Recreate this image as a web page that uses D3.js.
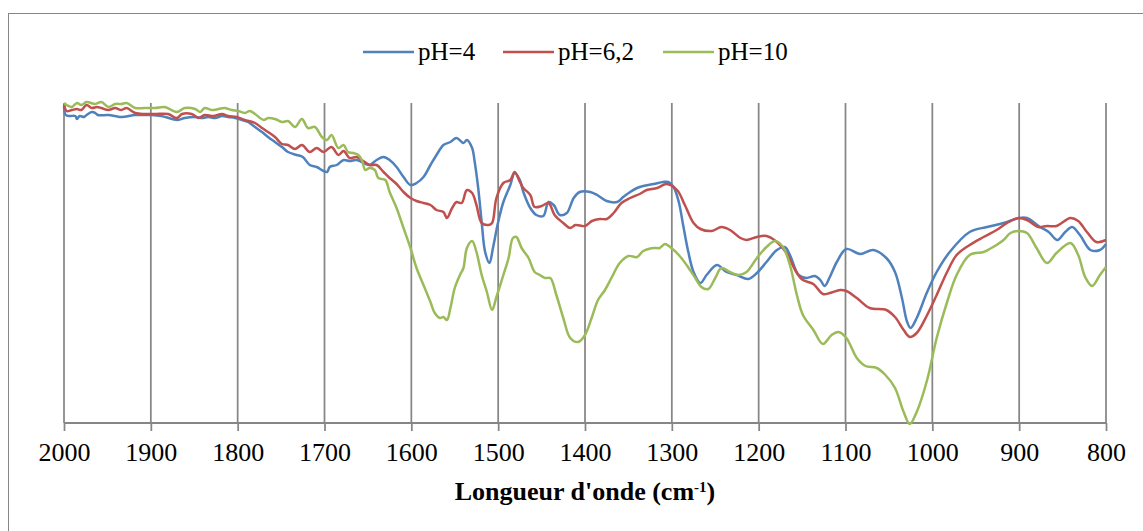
<!DOCTYPE html>
<html>
<head>
<meta charset="utf-8">
<script src="https://cdn.jsdelivr.net/npm/d3@7"></script>
<style>
  html, body { margin: 0; padding: 0; background: #fff; }
  svg { display: block; }
</style>
</head>
<body>
<svg id="chart" width="1143" height="531"></svg>
<script>
// ---- data (wavenumber cm-1, transmittance in arbitrary units) ----
const xTicks = [2000, 1900, 1800, 1700, 1600, 1500, 1400, 1300, 1200, 1100, 1000, 900, 800];
const seriesNames = ["pH=4", "pH=6,2", "pH=10"];
const seriesColors = ["#4F81BD", "#C0504D", "#9BBB59"];

const ph4 = [[2000,317],[1998,308],[1993,307],[1987,307],[1985,304],[1982,307],[1977,306],[1974,308],[1968,311],[1964,310],[1961,308],[1949,308],[1941,307],[1934,306],[1918,308],[1907,308],[1899,308],[1888,307],[1869,303],[1861,305],[1849,306],[1841,305],[1834,306],[1826,305],[1818,307],[1811,306],[1803,305],[1795,303],[1788,301],[1780,296],[1772,291],[1765,286],[1757,281],[1749,276],[1742,271],[1732,268],[1725,266],[1717,258],[1709,256],[1701,252],[1697,251],[1694,256],[1686,258],[1678,263],[1671,262],[1663,263],[1655,260],[1648,258],[1640,263],[1632,266],[1625,263],[1617,256],[1609,246],[1601,238],[1594,240],[1586,246],[1578,258],[1571,268],[1563,278],[1555,281],[1548,285],[1540,280],[1536,283],[1530,275],[1527,261],[1523,235],[1519,201],[1515,171],[1510,160],[1506,175],[1500,201],[1494,221],[1486,238],[1481,250],[1475,243],[1471,231],[1463,215],[1456,208],[1448,207],[1442,221],[1436,218],[1429,208],[1421,210],[1413,225],[1406,231],[1394,231],[1386,228],[1375,222],[1363,221],[1356,226],[1348,231],[1340,235],[1333,237],[1321,239],[1310,241],[1304,241],[1298,236],[1292,221],[1287,198],[1281,171],[1275,151],[1267,140],[1260,148],[1248,158],[1237,151],[1225,148],[1212,144],[1202,150],[1191,161],[1179,173],[1170,176],[1164,168],[1154,148],[1145,145],[1135,147],[1129,143],[1124,137],[1118,146],[1110,161],[1099,174],[1083,169],[1068,173],[1053,165],[1043,151],[1035,125],[1029,101],[1025,95],[1018,105],[1006,131],[995,151],[980,171],[957,191],[937,196],[918,200],[900,205],[891,205],[876,196],[866,191],[856,183],[847,191],[839,196],[830,188],[818,173],[807,173],[800,179]];

const ph62 = [[2000,319],[1997,312],[1991,313],[1985,314],[1980,313],[1974,318],[1968,315],[1962,316],[1957,315],[1949,313],[1941,315],[1934,313],[1928,315],[1918,310],[1907,309],[1895,309],[1880,309],[1870,305],[1864,309],[1853,309],[1845,305],[1838,308],[1828,307],[1818,309],[1811,307],[1801,306],[1792,303],[1780,300],[1772,295],[1765,291],[1757,286],[1749,279],[1742,278],[1734,274],[1726,278],[1717,271],[1709,275],[1701,271],[1692,276],[1684,268],[1678,272],[1671,265],[1663,266],[1657,263],[1648,258],[1640,258],[1632,251],[1625,245],[1617,239],[1609,231],[1601,225],[1594,222],[1586,220],[1578,218],[1571,213],[1563,211],[1559,205],[1553,215],[1548,221],[1542,220],[1536,233],[1530,230],[1525,218],[1519,200],[1511,198],[1507,200],[1502,225],[1494,240],[1486,243],[1481,251],[1475,241],[1471,235],[1463,228],[1458,216],[1450,217],[1442,220],[1435,208],[1425,200],[1417,195],[1411,198],[1400,197],[1392,202],[1383,204],[1375,204],[1367,210],[1358,220],[1348,225],[1337,229],[1329,233],[1317,235],[1306,239],[1294,233],[1285,218],[1275,200],[1267,194],[1254,192],[1243,196],[1233,193],[1221,185],[1214,183],[1202,186],[1191,187],[1179,181],[1168,170],[1156,150],[1149,143],[1137,139],[1126,129],[1118,130],[1106,133],[1099,132],[1087,125],[1072,115],[1053,113],[1043,106],[1033,93],[1026,86],[1018,90],[1006,108],[995,128],[983,151],[972,168],[957,178],[941,186],[926,193],[914,200],[901,205],[891,203],[878,196],[868,197],[857,197],[841,205],[832,202],[822,191],[811,181],[800,183]];

const ph10 = [[2000,320],[1997,318],[1991,316],[1985,320],[1980,318],[1974,321],[1964,319],[1957,321],[1949,316],[1941,319],[1934,319],[1928,320],[1918,315],[1907,315],[1895,315],[1884,316],[1870,311],[1861,315],[1849,314],[1843,311],[1838,315],[1830,313],[1822,314],[1815,315],[1807,313],[1799,312],[1792,310],[1786,312],[1780,309],[1770,303],[1765,305],[1757,304],[1749,301],[1742,302],[1734,296],[1726,304],[1719,295],[1711,296],[1703,286],[1697,283],[1692,288],[1684,275],[1678,278],[1673,271],[1667,270],[1661,268],[1657,263],[1653,253],[1648,255],[1642,253],[1638,245],[1630,243],[1625,231],[1617,215],[1609,195],[1601,175],[1594,155],[1586,138],[1578,121],[1573,110],[1567,105],[1563,106],[1559,103],[1555,115],[1550,135],[1544,148],[1540,155],[1536,175],[1530,182],[1525,171],[1519,148],[1513,131],[1507,113],[1502,126],[1494,148],[1488,165],[1483,185],[1479,186],[1473,175],[1465,165],[1458,151],[1452,148],[1446,145],[1440,145],[1433,128],[1425,105],[1417,85],[1408,81],[1400,88],[1392,106],[1385,123],[1377,133],[1369,146],[1360,160],[1350,167],[1340,166],[1333,172],[1321,175],[1314,175],[1308,179],[1302,176],[1292,168],[1283,158],[1273,145],[1266,136],[1258,134],[1250,145],[1243,155],[1233,151],[1223,148],[1214,151],[1202,165],[1191,176],[1181,182],[1172,176],[1164,158],[1156,128],[1149,108],[1137,93],[1126,79],[1116,88],[1108,91],[1099,85],[1087,65],[1077,57],[1064,55],[1054,48],[1043,35],[1033,11],[1026,-1],[1018,11],[1006,43],[995,85],[983,121],[972,148],[957,168],[941,171],[934,174],[926,178],[918,183],[910,190],[901,192],[891,190],[880,175],[868,160],[857,170],[841,180],[832,168],[824,146],[816,137],[807,148],[800,156]];

const allSeries = [ph4, ph62, ph10];

// ---- layout ----
const svg = d3.select("#chart");
const plot = { left: 64, right: 1106, top: 103, bottom: 423 };
const gridColor = "#868686";

// outer chart border (extends past the right/bottom edge)
svg.append("rect")
  .attr("x", 8.5).attr("y", 13.5)
  .attr("width", 1200).attr("height", 600)
  .attr("fill", "#fff")
  .attr("stroke", gridColor).attr("stroke-width", 1);

const x = d3.scaleLinear().domain([2000, 800]).range([plot.left, plot.right]);
const y = d3.scaleLinear().domain([0, 320]).range([plot.bottom, plot.top]);

// vertical gridlines
svg.append("g")
  .selectAll("line")
  .data(xTicks)
  .join("line")
  .attr("x1", d => x(d)).attr("x2", d => x(d))
  .attr("y1", plot.top).attr("y2", plot.bottom)
  .attr("stroke", gridColor).attr("stroke-width", 1.75);

// x axis
const xAxis = d3.axisBottom(x).tickValues(xTicks).tickSize(8).tickPadding(12).tickFormat(d3.format("d"));
const gx = svg.append("g")
  .attr("transform", `translate(0,${plot.bottom})`)
  .call(xAxis);
gx.select(".domain").attr("stroke", gridColor).attr("stroke-width", 2)
  .attr("d", `M${plot.left},0H${plot.right}`);
gx.selectAll(".tick line").attr("stroke", gridColor).attr("stroke-width", 1.75);
gx.selectAll(".tick text")
  .attr("fill", "#000")
  .style("font-family", "'Liberation Serif', 'Times New Roman', serif")
  .style("font-size", "26px");

// lines
const line = d3.line()
  .x(d => x(d[0]))
  .y(d => y(d[1]))
  .curve(d3.curveCatmullRom.alpha(0.5));

svg.append("g")
  .selectAll("path")
  .data(allSeries)
  .join("path")
  .attr("d", d => line(d))
  .attr("fill", "none")
  .attr("stroke", (d, i) => seriesColors[i])
  .attr("stroke-width", 2.5)
  .attr("stroke-linejoin", "round");

// axis title
const title = svg.append("text")
  .attr("x", (plot.left + plot.right) / 2)
  .attr("y", 500)
  .attr("text-anchor", "middle")
  .style("font-family", "'Liberation Serif', 'Times New Roman', serif")
  .style("font-size", "26px")
  .style("font-weight", "bold")
  .attr("fill", "#000");
title.append("tspan").text("Longueur d'onde (cm");
title.append("tspan").attr("baseline-shift", "super").style("font-size", "15px").text("-1");
title.append("tspan").text(")");

// legend
const legendPos = [363, 503, 663];
const lg = svg.append("g")
  .selectAll("g")
  .data(seriesNames)
  .join("g")
  .attr("transform", (d, i) => `translate(${legendPos[i]},52)`);
lg.append("line")
  .attr("x1", 0).attr("x2", 51).attr("y1", 0).attr("y2", 0)
  .attr("stroke", (d, i) => seriesColors[i]).attr("stroke-width", 2.5);
lg.append("text")
  .attr("x", 55).attr("y", 8)
  .style("font-family", "'Liberation Serif', 'Times New Roman', serif")
  .style("font-size", "25px")
  .attr("fill", "#000")
  .text(d => d);
</script>
</body>
</html>
